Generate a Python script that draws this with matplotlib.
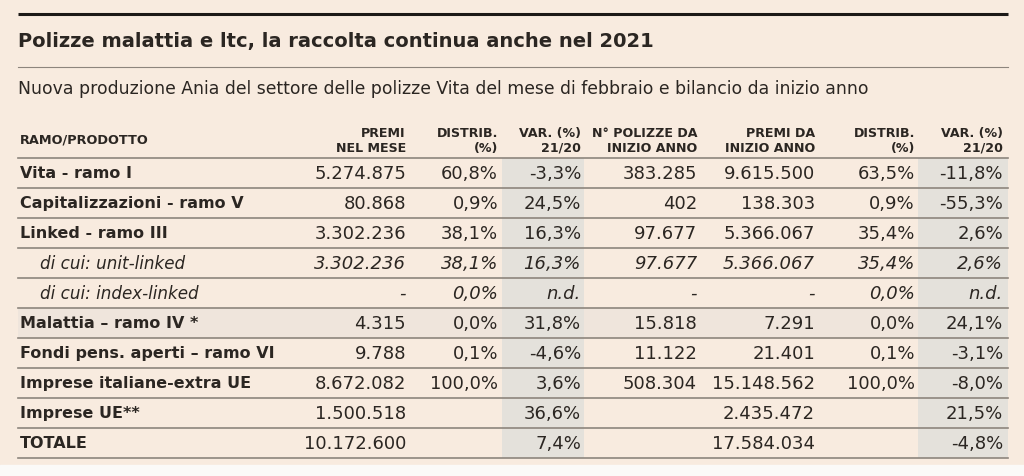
import matplotlib.pyplot as plt

plt.rcParams['font.family'] = ['DejaVu Sans']

title = "Polizze malattia e ltc, la raccolta continua anche nel 2021"
subtitle = ("Nuova produzione Ania del settore delle polizze Vita del mese "
            "di febbraio e bilancio da inizio anno")

headers = [("PREMI", "NEL MESE"), ("DISTRIB.", "(%)"), ("VAR. (%)", "21/20"),
           ("N° POLIZZE DA", "INIZIO ANNO"), ("PREMI DA", "INIZIO ANNO"),
           ("DISTRIB.", "(%)"), ("VAR. (%)", "21/20")]

labels = ["Vita - ramo I", "Capitalizzazioni - ramo V", "Linked - ramo III",
          "di cui: unit-linked", "di cui: index-linked", "Malattia – ramo IV *",
          "Fondi pens. aperti – ramo VI", "Imprese italiane-extra UE",
          "Imprese UE**", "TOTALE"]
italic_rows = [3, 4]
tinted_row = 5

premi_mese = ["5.274.875", "80.868", "3.302.236", "3.302.236", "-", "4.315",
              "9.788", "8.672.082", "1.500.518", "10.172.600"]
distrib_mese = ["60,8%", "0,9%", "38,1%", "38,1%", "0,0%", "0,0%", "0,1%",
                "100,0%", "", ""]
var_mese = ["-3,3%", "24,5%", "16,3%", "16,3%", "n.d.", "31,8%", "-4,6%",
            "3,6%", "36,6%", "7,4%"]
n_polizze = ["383.285", "402", "97.677", "97.677", "-", "15.818", "11.122",
             "508.304", "", ""]
premi_anno = ["9.615.500", "138.303", "5.366.067", "5.366.067", "-", "7.291",
              "21.401", "15.148.562", "2.435.472", "17.584.034"]
distrib_anno = ["63,5%", "0,9%", "35,4%", "35,4%", "0,0%", "0,0%", "0,1%",
                "100,0%", "", ""]
var_anno = ["-11,8%", "-55,3%", "2,6%", "2,6%", "n.d.", "24,1%", "-3,1%",
            "-8,0%", "21,5%", "-4,8%"]

columns = [premi_mese, distrib_mese, var_mese, n_polizze, premi_anno,
           distrib_anno, var_anno]

# layout in pixel units
col_right = [406, 498, 581, 697, 815, 915, 1003]
shaded = [(502, 584), (918, 1008)]
x0, x1 = 18, 1008
header_line = 159
row_h = 30

bg = "#f8ebdf"
shade = "#e4e1db"
ink = "#2b2622"
rule = "#8d857d"

fig = plt.figure(figsize=(10.24, 4.77), dpi=100, facecolor=bg)
ax = fig.add_axes([0, 0, 1, 1])
ax.set_xlim(0, 1024)
ax.set_ylim(477, 0)
ax.axis("off")

n = len(labels)
bottom = header_line + n * row_h

# white strip under the table
ax.add_patch(plt.Rectangle((0, bottom + 7), 1024, 477, color="#fbfaf8", zorder=0))
# faint tint on the malattia row
ax.add_patch(plt.Rectangle((x0, header_line + tinted_row * row_h), x1 - x0, row_h,
                           color="#efe5dc", lw=0, zorder=0.5))
for a, b in shaded:
    ax.add_patch(plt.Rectangle((a, header_line), b - a, bottom - header_line,
                               color=shade, lw=0, zorder=1))

# top rule, title, thin rule, subtitle
ax.plot([x0, x1], [14.5, 14.5], color="#1c1917", lw=2.2, solid_capstyle="butt")
ax.text(x0, 41, title, fontsize=14, fontweight="bold", color=ink, va="center")
ax.plot([x0, x1], [67.5, 67.5], color=rule, lw=0.8)
ax.text(x0, 89.5, subtitle, fontsize=12.4, color=ink, va="center")

# header
ax.text(20, 140, "RAMO/PRODOTTO", fontsize=9.3, fontweight="bold", color=ink,
        va="center")
for xr, (l1, l2) in zip(col_right, headers):
    ax.text(xr, 134, l1, fontsize=9.1, fontweight="bold", color=ink,
            va="center", ha="right")
    ax.text(xr, 148.5, l2, fontsize=9.1, fontweight="bold", color=ink,
            va="center", ha="right")

ax.plot([x0, x1], [header_line, header_line], color=rule, lw=1.2, zorder=2)

for i, lab in enumerate(labels):
    yc = header_line + row_h * i + row_h / 2
    yl = header_line + row_h * (i + 1)
    it = i in italic_rows
    ax.text(40 if it else 20, yc, lab, fontsize=12.1 if it else 11.5,
            color=ink, va="center", fontweight="normal" if it else "bold",
            fontstyle="italic" if it else "normal", zorder=3)
    for xr, col in zip(col_right, columns):
        ax.text(xr, yc, col[i], fontsize=13, color=ink, va="center",
                ha="right", fontstyle="italic" if it else "normal", zorder=3)
    ax.plot([x0, x1], [yl, yl], color=rule, lw=1.2, zorder=2)

fig.savefig("out.png", dpi=100, facecolor=bg)
